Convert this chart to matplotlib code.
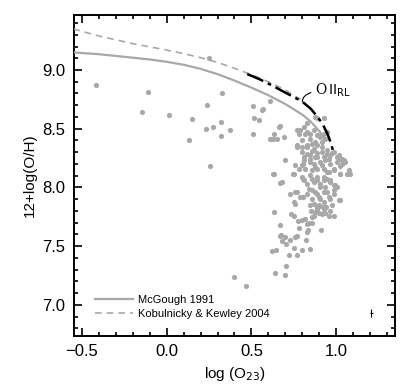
#!/usr/bin/env python3
"""12+log(O/H) vs log(O23) with strong-line calibrations."""

import matplotlib
matplotlib.use("Agg")
import matplotlib.pyplot as plt
from matplotlib.ticker import MultipleLocator

plt.rcParams.update({
    "font.family": ["Liberation Sans", "DejaVu Sans"],
    "font.size": 11,
})

# McGough 1991 upper branch
mcg_x = [-0.55, -0.4, -0.2, -0.1, 0.0, 0.1, 0.2, 0.3, 0.4, 0.5, 0.6, 0.7, 0.8, 0.85, 0.9, 0.93]
mcg_y = [9.15, 9.135, 9.105, 9.09, 9.07, 9.045, 9.01, 8.965, 8.91, 8.85, 8.785, 8.71, 8.62,
         8.56, 8.48, 8.42]

# Kobulnicky & Kewley 2004
kk_x = [-0.55, -0.4, -0.2, 0.0, 0.1, 0.2, 0.3, 0.4, 0.5, 0.6, 0.7, 0.79]
kk_y = [9.35, 9.29, 9.225, 9.17, 9.14, 9.105, 9.065, 9.015, 8.96, 8.90, 8.83, 8.75]

# O II recombination-line calibration
rl_x = [0.475, 0.55, 0.62, 0.69, 0.75, 0.80, 0.85, 0.89, 0.92, 0.95, 0.97, 0.985]
rl_y = [8.966, 8.92, 8.87, 8.815, 8.77, 8.73, 8.67, 8.60, 8.54, 8.45, 8.37, 8.29]

# typical error bar
err_x, err_y = 1.206, 6.93
err_dx, err_dy = 0.008, 0.035

obs_x = [
    -0.415, -0.108, -0.143, 0.016, 0.131, 0.151, 0.239, 0.325, 0.231, 0.276,
    0.318, 0.318, 0.376, 0.512, 0.51, 0.518, 0.545, 0.56, 0.57, 0.61,
    0.61, 0.63, 0.69, 0.25, 0.255, 0.625, 0.67, 0.635, 0.667, 0.67,
    0.62, 0.647, 0.641, 0.40, 0.47,
    0.675, 0.698, 0.682, 0.702, 0.73, 0.757, 0.769, 0.75, 0.796, 0.847,
    0.724, 0.769, 0.704, 0.70, 0.824, 0.91, 0.733, 0.749, 0.775, 0.78,
    0.80, 0.815, 0.83, 0.84, 0.835, 0.83, 0.86, 0.857, 0.869, 0.853,
    0.886, 0.906, 0.925, 0.94, 0.876, 0.896, 0.916, 0.935, 0.955, 0.984, 0.965,
    0.798, 0.828, 0.857, 0.886, 0.916, 0.945, 0.975, 1.014, 1.034, 0.808,
    0.847, 0.877, 0.700, 0.759, 0.798, 0.808, 0.867, 0.906, 0.936, 0.965,
    1.004, 1.024, 1.053, 0.955, 0.632, 0.745, 0.779, 0.818, 0.857, 0.886,
    0.926, 0.955, 0.985, 1.024, 1.073, 1.079, 0.681, 0.798, 0.808, 0.828,
    0.857, 0.867, 0.886, 0.906, 0.926, 0.945, 0.965, 0.985, 1.004, 0.936,
    0.730, 0.759, 0.749, 0.788, 0.828, 0.857, 0.886, 0.906, 0.926, 0.955,
    0.985, 1.014, 0.867, 0.896, 0.926, 0.975, 0.886,
    0.661, 0.632, 0.651, 0.769, 0.779, 0.808, 0.828, 0.847, 0.867, 0.886,
    0.926, 0.886, 0.906, 0.926, 0.945, 0.769, 0.798, 0.828, 0.857, 0.886,
    0.916, 0.936, 0.667, 0.827, 0.876, 1.043, 1.063,
    0.749, 0.807, 0.847, 0.876, 0.915, 0.945, 0.984, 1.023, 1.033, 0.807,
    0.847, 0.886, 0.925, 0.964, 0.994, 0.768, 0.837, 0.876, 0.905, 0.945,
    0.984, 1.023, 0.807, 0.856, 0.896, 0.925, 0.964, 0.758, 0.886, 0.925, 0.847,
    0.788, 0.817, 0.798, 0.847, 0.876, 0.905, 0.827, 0.866, 0.915, 0.945,
    0.768, 0.984, 1.003, 0.925, 0.964, 0.847, 0.886, 1.023,
]
obs_y = [
    8.875, 8.815, 8.64, 8.615, 8.40, 8.58, 8.70, 8.80, 8.50, 8.515,
    8.56, 8.44, 8.49, 8.69, 8.455, 8.59, 8.57, 8.66, 8.67, 8.735,
    8.41, 8.41, 8.43, 9.10, 8.18, 8.117, 8.04, 7.79, 7.68, 7.59,
    7.46, 7.47, 7.27, 7.24, 7.16,
    7.595, 7.58, 7.54, 7.52, 7.55, 7.58, 7.587, 7.48, 7.47, 7.475,
    7.42, 7.42, 7.33, 7.25, 7.55, 7.64, 7.775, 7.755, 7.71, 7.655,
    7.72, 7.73, 7.69, 7.70, 7.64, 7.62, 7.70, 7.745, 7.76, 7.795,
    7.83, 7.84, 7.82, 7.83, 7.79, 7.78, 7.775, 7.78, 7.76, 7.755, 7.80,
    8.302, 8.288, 8.307, 8.293, 8.302, 8.282, 8.293, 8.273, 8.245, 8.259,
    8.245, 8.259, 8.231, 8.188, 8.188, 8.231, 8.202, 8.216, 8.231, 8.202,
    8.216, 8.179, 8.216, 8.245, 8.117, 8.117, 8.159, 8.159, 8.145, 8.159,
    8.159, 8.131, 8.145, 8.117, 8.145, 8.117, 8.045, 8.088, 8.060, 8.031,
    8.074, 8.045, 8.088, 8.031, 8.060, 8.074, 8.045, 8.017, 8.003, 8.003,
    7.946, 7.960, 7.874, 7.917, 7.946, 7.974, 7.946, 7.903, 7.960, 7.917,
    7.946, 7.889, 7.860, 7.846, 7.832, 7.846, 7.817,
    8.515, 8.458, 8.416, 8.487, 8.458, 8.515, 8.473, 8.458, 8.487, 8.587,
    8.587, 8.444, 8.430, 8.458, 8.473, 8.359, 8.344, 8.359, 8.373, 8.359,
    8.387, 8.416, 8.521, 8.55, 8.60, 8.23, 8.117,
    8.117, 8.20, 8.217, 8.174, 8.188, 8.131, 8.16, 8.117, 8.203, 8.074,
    8.103, 8.06, 8.089, 8.06, 8.017, 7.96, 7.989, 7.96, 8.003, 7.96,
    7.975, 7.889, 7.918, 7.903, 7.918, 7.875, 7.903, 7.861, 7.832, 7.818, 7.846,
    8.487, 8.458, 8.401, 8.416, 8.387, 8.444, 8.344, 8.33, 8.344, 8.316,
    8.344, 8.302, 8.259, 8.259, 8.273, 8.273, 8.259, 8.245,
]

GRAY = "#a8a8a8"

fig = plt.figure(figsize=(4.15, 3.91), dpi=100)
ax = fig.add_axes([0.178, 0.141, 0.774, 0.821])

ax.scatter(obs_x, obs_y, s=14, color=GRAY, linewidths=0, zorder=2)
ax.plot(mcg_x, mcg_y, color=GRAY, lw=1.6, label="McGough 1991", zorder=3)
ax.plot(kk_x, kk_y, color=GRAY, lw=1.2, dashes=(4, 3),
        label="Kobulnicky & Kewley 2004", zorder=3)
ax.plot(rl_x, rl_y, color="black", lw=1.8, dashes=(7, 2, 1.5, 2), zorder=4)
ax.errorbar([err_x], [err_y], xerr=[err_dx], yerr=[err_dy], fmt="none",
            ecolor="black", elinewidth=0.8, capsize=0)

ax.annotate(r"O$\,\mathrm{II}_{\mathrm{RL}}$", xy=(0.80, 8.73), xytext=(0.875, 8.83),
            fontsize=10, family="DejaVu Serif", va="center", ha="left",
            arrowprops=dict(arrowstyle="-", color="black", lw=0.8,
                            connectionstyle="angle3,angleA=0,angleB=90",
                            shrinkA=1, shrinkB=0))

ax.set_xlim(-0.547, 1.347)
ax.set_ylim(6.735, 9.47)
ax.xaxis.set_major_locator(MultipleLocator(0.5))
ax.xaxis.set_minor_locator(MultipleLocator(0.1))
ax.yaxis.set_major_locator(MultipleLocator(0.5))
ax.yaxis.set_minor_locator(MultipleLocator(0.1))
ax.tick_params(which="both", direction="in", top=True, right=True, width=1.2)
ax.tick_params(which="major", length=6, labelsize=12, pad=6)
ax.tick_params(which="minor", length=3)
for sp in ax.spines.values():
    sp.set_linewidth(1.4)

ax.set_xlabel(r"log (O$_{23}$)", fontsize=11)
ax.set_ylabel("12+log(O/H)", fontsize=11)

ax.legend(loc="lower left", bbox_to_anchor=(0.047, 0.035), frameon=False,
          borderpad=0, fontsize=8, handlelength=3.5, handletextpad=0.45,
          labelspacing=0.35)

fig.savefig("out.png", dpi=100)
